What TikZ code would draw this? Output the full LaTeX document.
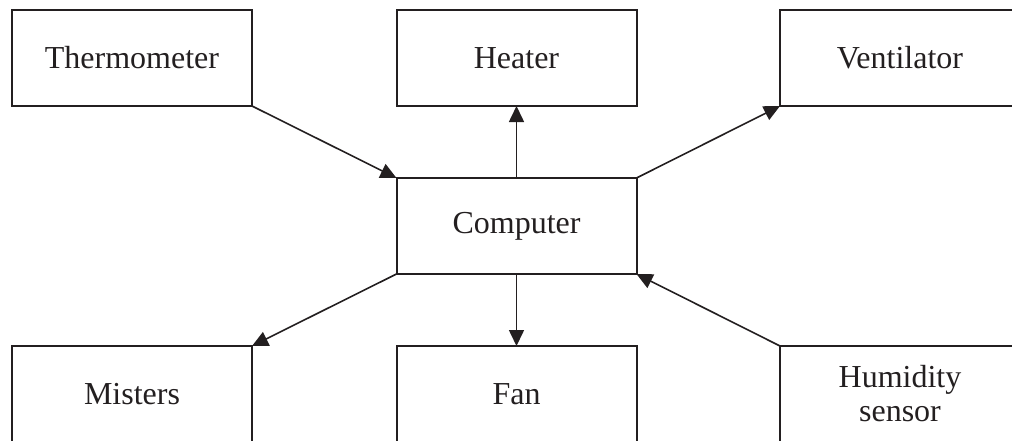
\documentclass[tikz,border=0pt]{standalone}
\usepackage{fontspec}
\setmainfont{Liberation Serif}
\usetikzlibrary{arrows.meta}
\definecolor{ink}{HTML}{231F20}
\begin{document}
\begin{tikzpicture}[x=1pt,y=-1pt,
  box/.style={draw=ink,line width=2pt,minimum width=240pt,minimum height=96pt,inner sep=0pt,outer sep=0pt,font=\fontsize{32}{34}\selectfont,text=ink,align=center},
  conn/.style={draw=ink,line width=1.6pt,-{Triangle[length=16pt,width=15pt]}}]
\useasboundingbox (0,0) rectangle (1012,440);
\node[box] (thermo) at (132,58) {Thermometer};
\node[box] (heater) at (516.5,58) {Heater};
\node[box] (vent) at (900,58) {Ventilator};
\node[box] (comp) at (516.5,226) {Computer};
\node[box] (mist) at (132,394) {Misters};
\node[box] (fan) at (516.5,394) {Fan};
\node[box] (hum) at (900,394) {Humidity\\sensor};
\draw[conn] (thermo.south east) -- (comp.north west);
\draw[conn] (comp.north) -- (heater.south);
\draw[conn] (comp.north east) -- (vent.south west);
\draw[conn] (comp.south west) -- (mist.north east);
\draw[conn] (comp.south) -- (fan.north);
\draw[conn] (hum.north west) -- (comp.south east);
\end{tikzpicture}
\end{document}
